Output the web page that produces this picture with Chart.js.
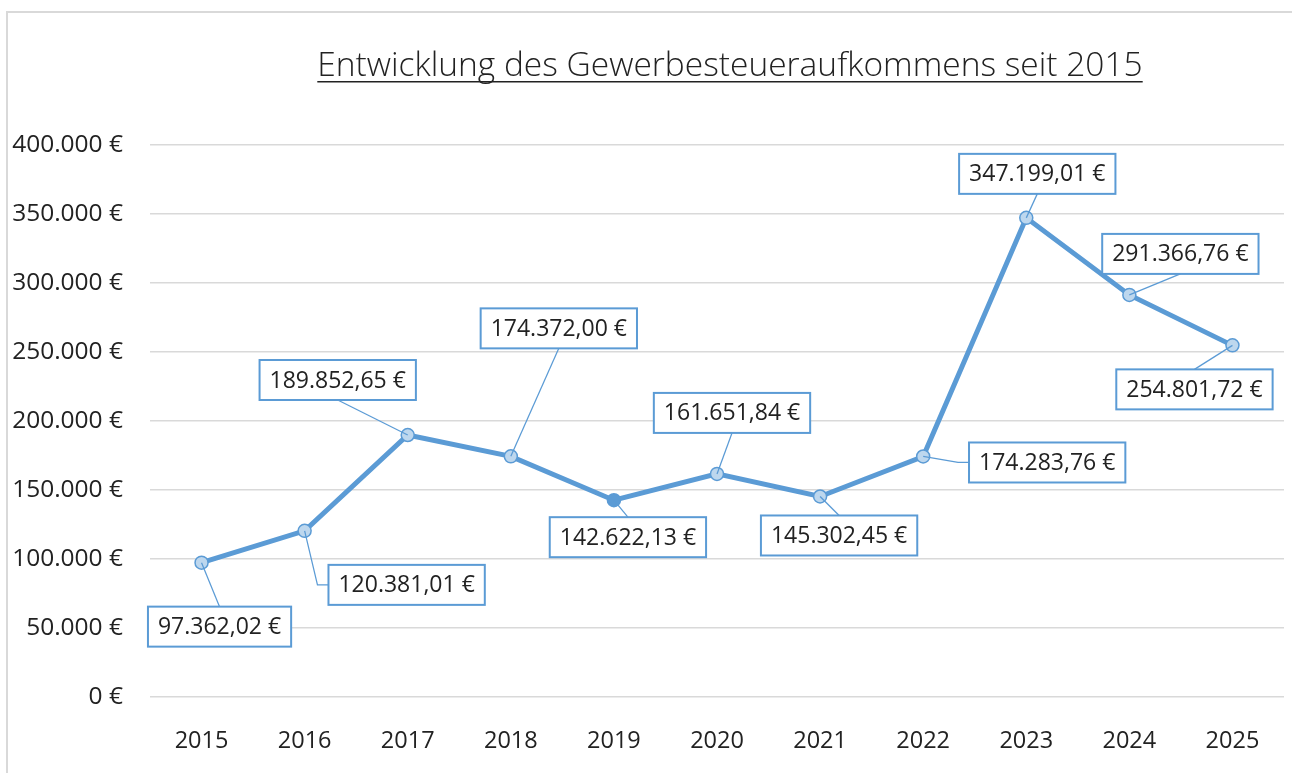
<!DOCTYPE html>
<html lang="de">
<head>
<meta charset="utf-8">
<title>Gewerbesteueraufkommen</title>
<script src="https://cdn.jsdelivr.net/npm/chart.js@4.4.1/dist/chart.umd.min.js"></script>
<style>
  html, body { margin: 0; padding: 0; background: #fff; }
  canvas { display: block; }
</style>
</head>
<body>
<canvas id="taxChart" width="1292" height="773"></canvas>
<script>
const years = ['2015', '2016', '2017', '2018', '2019', '2020', '2021', '2022', '2023', '2024', '2025'];
const revenue = [97362.02, 120381.01, 189852.65, 174372.00, 142622.13, 161651.84, 145302.45, 174283.76, 347199.01, 291366.76, 254801.72];
const yTicks = [0, 50000, 100000, 150000, 200000, 250000, 300000, 350000, 400000];

// where each data label box sits, relative to its point (px)
const labelOffsets = [[18, 64], [102, 54], [-70, -55], [48, -128], [14, 37], [15, -61], [19, 39], [124, 6], [11, -44], [51, -41], [-38, 44]];

const blue = '#5B9BD5';
const lightBlue = '#BDD7EE';
const textColor = '#222222';
const font = "'Open Sans', 'Noto Sans', sans-serif";

const euro = (v, digits) => v.toLocaleString('de-DE', { minimumFractionDigits: digits, maximumFractionDigits: digits }) + ' €';

// frame + underlined title
const framePlugin = {
  id: 'frame',
  beforeDraw(chart) {
    const c = chart.ctx;
    c.save();
    c.strokeStyle = '#d9d9d9';
    c.lineWidth = 2;
    c.beginPath();
    c.moveTo(7, chart.height);
    c.lineTo(7, 12);
    c.lineTo(chart.width, 12);
    c.stroke();

    const title = 'Entwicklung des Gewerbesteueraufkommens seit 2015';
    c.font = "300 33.5px " + font;
    c.fillStyle = textColor;
    c.textAlign = 'center';
    c.textBaseline = 'alphabetic';
    const cx = 730, base = 76;
    c.fillText(title, cx, base);
    const w = c.measureText(title).width;
    c.fillRect(cx - w / 2, base + 5, w, 1.5);
    c.restore();
  }
};

// boxed value labels with leader lines
const labelPlugin = {
  id: 'valueLabels',
  afterDatasetsDraw(chart) {
    const c = chart.ctx;
    const pts = chart.getDatasetMeta(0).data;
    c.save();
    c.font = "23px " + font;
    pts.forEach((p, i) => {
      const text = euro(revenue[i], 2);
      const [dx, dy] = labelOffsets[i];
      const w = c.measureText(text).width + 20;
      const h = 40;
      const bx = p.x + dx - w / 2, by = p.y + dy - h / 2;

      c.strokeStyle = blue;
      c.lineWidth = 1.25;
      c.beginPath();
      c.moveTo(p.x, p.y);
      if (p.x < bx) {
        c.lineTo(bx - 11, by + h / 2);
        c.lineTo(bx, by + h / 2);
      } else if (by > p.y) {
        c.lineTo(p.x + dx, by);
      } else {
        c.lineTo(p.x + dx, by + h);
      }
      c.stroke();

      c.fillStyle = '#fff';
      c.fillRect(bx, by, w, h);
      c.lineWidth = 2;
      c.strokeRect(bx, by, w, h);

      c.fillStyle = textColor;
      c.textAlign = 'center';
      c.textBaseline = 'middle';
      c.fillText(text, p.x + dx, p.y + dy + 1);
    });
    c.restore();
  }
};

new Chart(document.getElementById('taxChart'), {
  type: 'line',
  data: {
    labels: years,
    datasets: [{
      label: 'Gewerbesteueraufkommen',
      data: revenue,
      borderColor: blue,
      borderWidth: 5,
      pointRadius: 6.5,
      pointBorderWidth: 1.5,
      pointBorderColor: blue,
      pointBackgroundColor: years.map(y => y === '2019' ? blue : lightBlue),
      tension: 0
    }]
  },
  options: {
    responsive: false,
    animation: false,
    layout: { padding: { top: 145, left: 10, right: 7, bottom: 16 } },
    plugins: {
      legend: { display: false },
      tooltip: { enabled: false },
      title: { display: false }
    },
    scales: {
      x: {
        offset: true,
        grid: { display: false },
        border: { display: false },
        ticks: { color: textColor, font: { family: font, size: 23.5 }, padding: 22 },
        afterFit(scale) { scale.height = 60; }
      },
      y: {
        min: 0,
        max: 400000,
        afterBuildTicks(scale) { scale.ticks = yTicks.map(v => ({ value: v })); },
        grid: { color: '#d9d9d9', lineWidth: 1.5, drawTicks: false },
        border: { display: false },
        ticks: { color: textColor, font: { family: font, size: 24.5 }, padding: 27, callback: v => euro(v, 0) },
        afterFit(scale) { scale.width = 140; }
      }
    }
  },
  plugins: [framePlugin, labelPlugin]
});
</script>
</body>
</html>
